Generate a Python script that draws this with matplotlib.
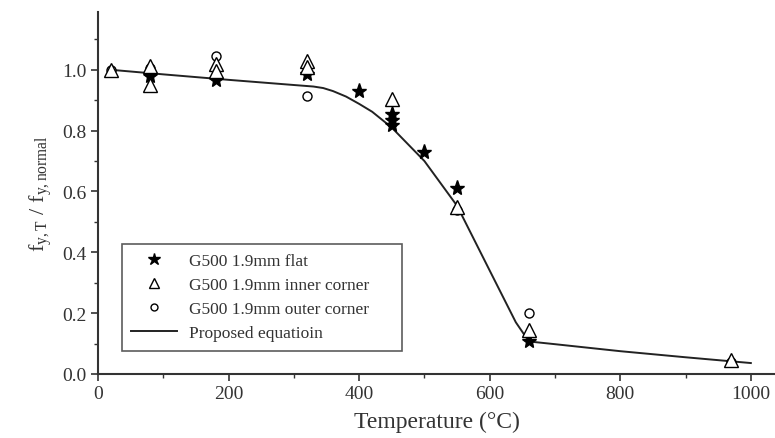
import matplotlib
matplotlib.use("Agg")
import matplotlib.pyplot as plt
from matplotlib.ticker import MultipleLocator

plt.rcParams['font.family'] = ['Liberation Serif', 'DejaVu Serif']
plt.rcParams['mathtext.fontset'] = 'custom'
plt.rcParams['mathtext.rm'] = 'Liberation Serif'
plt.rcParams['mathtext.it'] = 'Liberation Serif'

# Data
flat_T = [80, 180, 320, 400, 450, 450, 450, 500, 550, 660]
flat_y = [0.98, 0.967, 0.985, 0.93, 0.855, 0.835, 0.82, 0.73, 0.61, 0.11]

inner_T = [20, 80, 80, 180, 180, 320, 320, 450, 550, 660, 970]
inner_y = [1.0, 1.013, 0.95, 1.02, 0.995, 1.03, 1.01, 0.905, 0.55, 0.145, 0.045]

outer_T = [20, 80, 180, 320, 550, 660, 970]
outer_y = [1.0, 1.005, 1.045, 0.915, 0.54, 0.20, 0.04]

eq_T = [20, 100, 200, 300, 330, 345, 360, 380, 400, 420, 450, 500, 550, 600, 640, 660, 700, 800, 900, 1000]
eq_y = [1.0, 0.985, 0.967, 0.95, 0.945, 0.940, 0.930, 0.912, 0.888, 0.862, 0.81, 0.70, 0.553, 0.34, 0.17, 0.107, 0.098, 0.075, 0.055, 0.036]

fig = plt.figure(figsize=(7.75, 4.39), dpi=100)
ax = fig.add_axes([98/775, 1-375/439, 1-98/775, (375-13)/439])

col = '#222222'
ax.plot(eq_T, eq_y, '-', color=col, lw=1.4, label='Proposed equatioin', zorder=2)
ax.plot(outer_T, outer_y, linestyle='none', marker='o', ms=6.5, mfc='white',
        mec='black', mew=1.0, label='G500 1.9mm outer corner', zorder=3)
ax.plot(flat_T, flat_y, linestyle='none', marker='*', ms=11, color='black',
        label='G500 1.9mm flat', zorder=4)
ax.plot(inner_T, inner_y, linestyle='none', marker='^', ms=9.5, mfc='white',
        mec='black', mew=1.0, label='G500 1.9mm inner corner', zorder=5)

ax.set_xlim(0, 1037)
ax.set_ylim(0, 1.19)
ax.xaxis.set_major_locator(MultipleLocator(200))
ax.xaxis.set_minor_locator(MultipleLocator(100))
ax.yaxis.set_major_locator(MultipleLocator(0.2))
ax.yaxis.set_minor_locator(MultipleLocator(0.1))
ax.yaxis.set_major_formatter(matplotlib.ticker.FormatStrFormatter('%.1f'))

for s in ['top', 'right']:
    ax.spines[s].set_visible(False)
for s in ['left', 'bottom']:
    ax.spines[s].set_linewidth(1.5)
    ax.spines[s].set_color('#333333')

ax.tick_params(which='major', direction='out', length=5, width=1.2, labelsize=14,
               colors='#333333', labelcolor='#333333', pad=3)
ax.tick_params(which='minor', direction='out', length=3, width=1.0, colors='#333333')

ax.set_xlabel('Temperature (°C)', fontsize=17, color='#333333', labelpad=6)
ax.set_ylabel(r'$\mathregular{f_{y,T}\ /\ f_{y,normal}}$', fontsize=16, color='#333333', labelpad=6)

handles, labels = ax.get_legend_handles_labels()
hmap = dict(zip(labels, handles))
order = ['G500 1.9mm flat', 'G500 1.9mm inner corner', 'G500 1.9mm outer corner', 'Proposed equatioin']
leg = ax.legend([hmap[k] for k in order], order,
                loc='lower left', bbox_to_anchor=(0.035, 0.064, 0.414, 0.301),
                mode='expand', fontsize=12.5, frameon=True, fancybox=False,
                edgecolor='#333333', borderpad=0.55, labelspacing=0.45,
                handlelength=2.65, handletextpad=0.7, borderaxespad=0)
leg.get_frame().set_linewidth(1.2)
for t in leg.get_texts():
    t.set_color('#333333')
for h in leg.legend_handles:
    try:
        m = h.get_marker()
        if m == '*':
            h.set_markersize(9)
        elif m == '^':
            h.set_markersize(7.5)
        elif m == 'o':
            h.set_markersize(5)
    except Exception:
        pass

fig.savefig('out.png', dpi=100)
